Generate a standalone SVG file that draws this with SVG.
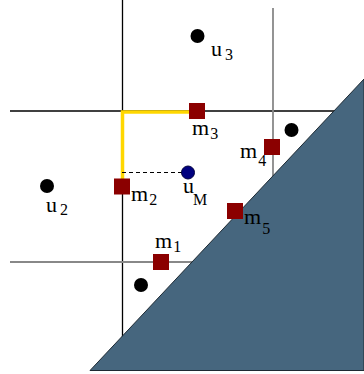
<svg xmlns="http://www.w3.org/2000/svg" width="364" height="374" viewBox="0 0 364 374">
<style>
.blk{stroke:#000;stroke-width:1.3;fill:none}
.gry{stroke:#888;stroke-width:1.8;fill:none}
.dot{fill:#000}
.sq{fill:#8b0000}
.lbl{font-family:"Liberation Serif","Times New Roman",serif;font-size:22px;fill:#000}
.sub{font-size:16px}
</style>
<rect width="364" height="374" fill="#fff"/>
<g id="connectors">
<line class="blk" x1="122.5" y1="0" x2="122.5" y2="340"/>
<line class="blk" x1="10" y1="111" x2="336" y2="111"/>
<line class="gry" x1="273" y1="8" x2="273" y2="180"/>
<line class="gry" x1="10" y1="262" x2="195" y2="262"/>
<polyline points="122.5,186 122.5,112 197,112" fill="none" stroke="#ffd700" stroke-width="3.5"/>
<line x1="122" y1="172.5" x2="188" y2="172.5" stroke="#000" stroke-width="1" stroke-dasharray="4,3"/>
</g>
<g id="obstacle">
<polygon points="90,370.5 364,79 364,370.5" fill="#46667e" stroke="#1e2a33" stroke-width="1"/>
</g>
<g id="u3"><circle class="dot" cx="197.5" cy="36" r="7"/><text class="lbl" x="211" y="56">u<tspan class="sub" dx="3" dy="4">3</tspan></text></g>
<g id="u2"><circle class="dot" cx="47" cy="186" r="7"/><text class="lbl" x="46" y="212">u<tspan class="sub" dx="3" dy="3">2</tspan></text></g>
<g id="obs4"><circle class="dot" cx="291.5" cy="130" r="7"/></g>
<g id="obs1"><circle class="dot" cx="141" cy="285" r="7"/></g>
<g id="uM"><circle cx="188" cy="172.5" r="6.5" fill="#00007f" stroke="#000040" stroke-width="1"/><text class="lbl" x="183" y="193">u<tspan class="sub" dx="-1" dy="12">M</tspan></text></g>
<g id="m1"><rect class="sq" x="153" y="254" width="16" height="16"/><text class="lbl" x="155" y="248">m<tspan class="sub" dx="1" dy="4">1</tspan></text></g>
<g id="m2"><rect class="sq" x="114" y="178.5" width="16" height="16"/><text class="lbl" x="131" y="201">m<tspan class="sub" dx="1" dy="4">2</tspan></text></g>
<g id="m3"><rect class="sq" x="189" y="103" width="16" height="16"/><text class="lbl" x="192" y="135">m<tspan class="sub" dx="1" dy="4">3</tspan></text></g>
<g id="m4"><rect class="sq" x="264" y="139" width="16" height="16"/><text class="lbl" x="240" y="158">m<tspan class="sub" dx="1" dy="8">4</tspan></text></g>
<g id="m5"><rect class="sq" x="227" y="203" width="16" height="16"/><text class="lbl" x="244" y="223.5">m<tspan class="sub" dx="1" dy="10">5</tspan></text></g>
</svg>
